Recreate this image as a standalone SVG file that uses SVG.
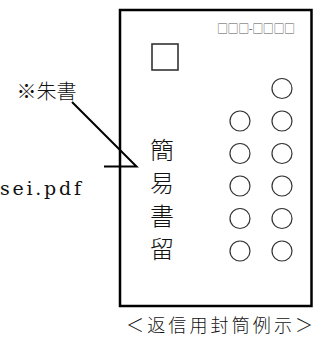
<svg xmlns="http://www.w3.org/2000/svg" width="320" height="337" viewBox="0 0 320 337">
<style>
.cjk{font-family:"Noto Sans CJK JP","Noto Sans",sans-serif;fill:#111}
.c{fill:none;stroke:#333;stroke-width:1.2}
.ln{stroke:#000;stroke-width:2;fill:none}
</style>
<rect width="320" height="337" fill="#fff"/>
<g id="envelope">
<rect x="120" y="10" width="191.5" height="296" fill="none" stroke="#000" stroke-width="2.5"/>
<text x="295" y="33" text-anchor="end" font-family="'Noto Sans CJK JP',sans-serif" font-size="11" fill="#555" textLength="78" lengthAdjust="spacing">□□□-□□□□</text>
<rect x="152" y="44" width="26" height="26" fill="none" stroke="#333" stroke-width="1.6"/>
</g>
<g id="label-vertical" class="cjk" font-size="24" font-weight="300" text-anchor="middle">
<text x="162" y="159">簡</text>
<text x="162" y="192">易</text>
<text x="162" y="225">書</text>
<text x="162" y="258">留</text>
</g>
<g id="circles">
<circle class="c" cx="282" cy="88.5" r="10"/>
<circle class="c" cx="240" cy="121" r="10"/><circle class="c" cx="282" cy="121" r="10"/>
<circle class="c" cx="240" cy="153.5" r="10"/><circle class="c" cx="282" cy="153.5" r="10"/>
<circle class="c" cx="240" cy="186" r="10"/><circle class="c" cx="282" cy="186" r="10"/>
<circle class="c" cx="240" cy="218.5" r="10"/><circle class="c" cx="282" cy="218.5" r="10"/>
<circle class="c" cx="240" cy="251" r="10"/><circle class="c" cx="282" cy="251" r="10"/>
</g>
<g id="note">
<text x="46.5" y="99" class="cjk" font-size="20" font-weight="300" text-anchor="middle">※朱書</text>
</g>
<g id="file-label">
<text x="0" y="195" font-family="'DejaVu Serif',serif" font-size="19" fill="#111" textLength="81" lengthAdjust="spacing">sei.pdf</text>
</g>
<g id="connectors">
<polyline class="ln" points="72,102 136.5,166.5 104,166.5"/>
</g>
<g id="caption">
<text x="126" y="332" class="cjk" font-size="18" font-weight="300" textLength="187" lengthAdjust="spacing">＜返信用封筒例示＞</text>
</g>
</svg>
